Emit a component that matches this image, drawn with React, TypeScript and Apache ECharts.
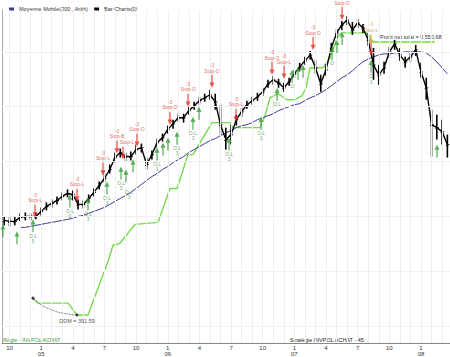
import React, { useEffect, useRef } from "react";
import * as echarts from "echarts";

// Month index: 0 = October 2004 (x axis), one bar every half month
const FIRST_BAR_MONTH = -0.5;

const closes = [
  4090, 4080, 4080, 4120, 4130, 4130, 4130, 4180, 4230, 4260, 4290, 4330, 4360, 4350, 4250, 4250, 4310, 4370, 4440, 4510,
  4600, 4720, 4770, 4730, 4730, 4800, 4820, 4650, 4750, 4870, 4920, 5000, 5060, 5120, 5120, 5190, 5240, 5290, 5320, 5350,
  5280, 5050, 4900, 4950, 5100, 5180, 5250, 5290, 5330, 5380, 5460, 5500, 5470, 5420, 5480, 5560, 5630, 5690, 5750, 5620,
  5460, 5600, 5820, 5970, 6050, 6100, 6000, 6070, 6020, 5900, 5650, 5550, 5620, 5780, 5860, 5750, 5680, 5730, 5800, 5580,
  5420, 5050, 5020, 4980, 4850,
];
const highs = [
  4130, 4120, 4130, 4160, 4170, 4160, 4170, 4220, 4270, 4300, 4330, 4370, 4400, 4390, 4300, 4290, 4350, 4410, 4480, 4560,
  4650, 4770, 4810, 4770, 4780, 4850, 4860, 4720, 4790, 4910, 4960, 5040, 5100, 5160, 5160, 5230, 5280, 5330, 5360, 5400,
  5360, 5250, 5020, 5050, 5150, 5220, 5290, 5330, 5370, 5420, 5500, 5540, 5510, 5470, 5520, 5600, 5670, 5730, 5790, 5700,
  5550, 5660, 5870, 6010, 6090, 6140, 6080, 6110, 6060, 5970, 5820, 5650, 5680, 5830, 5900, 5820, 5730, 5780, 5850, 5670,
  5520, 5200, 5150, 5100, 4950,
];
const lows = [
  4040, 4030, 4040, 4080, 4090, 4090, 4100, 4140, 4190, 4220, 4250, 4290, 4320, 4290, 4200, 4210, 4270, 4330, 4400, 4470,
  4560, 4670, 4720, 4680, 4690, 4750, 4770, 4600, 4700, 4820, 4880, 4960, 5010, 5080, 5070, 5150, 5200, 5250, 5280, 5300,
  5200, 4950, 4800, 4850, 5040, 5130, 5210, 5250, 5290, 5340, 5420, 5450, 5420, 5380, 5440, 5520, 5590, 5650, 5700, 5560,
  5380, 5540, 5770, 5920, 6000, 6050, 5950, 6020, 5970, 5840, 5500, 5450, 5560, 5720, 5800, 5690, 5620, 5680, 5740, 5520,
  5300, 4730, 4900, 4850, 4720,
];
const movingAverage200 = [
  null, null, null,
  4020, 4020, 4030, 4040, 4050, 4060, 4070, 4080, 4090, 4100, 4110, 4130, 4140, 4160, 4180, 4200, 4220, 4250, 4280, 4310,
  4340, 4370, 4410, 4450, 4490, 4530, 4560, 4600, 4630, 4670, 4700, 4730, 4770, 4800, 4830, 4860, 4890, 4910, 4940, 4970,
  4990, 5020, 5040, 5050, 5070, 5100, 5120, 5140, 5160, 5190, 5210, 5230, 5250, 5260, 5290, 5320, 5340, 5370, 5400, 5440,
  5480, 5520, 5550, 5590, 5640, 5680, 5710, 5730, 5750, 5760, 5760, 5770, 5770, 5780, 5780, 5780, 5780, 5770, 5730, 5680,
  5620, 5560,
];
// Equity curve of the strategy: [month, profit €]
const equityCurve: [number, number][] = [
  [2.23, 0], [2.7, -108], [5.55, -108], [6.4, -367], [7.44, -367], [9.34, 799], [9.81, 1145], [10.47, 1188],
  [11.9, 1598], [14.08, 1642], [15.21, 2376], [15.88, 2376], [16.92, 3110], [17.39, 3110], [19.19, 3802],
  [20.9, 3802], [21.18, 3694], [23.74, 3694], [24.22, 3953], [24.69, 4342], [25.45, 4428], [26.3, 4298],
  [27.06, 4298], [27.73, 4385], [28.1, 4558], [28.48, 4990], [29.72, 4990], [30.38, 5206], [31.14, 5681],
  [31.52, 5746], [33.89, 5746], [34.46, 5550.68], [40.33, 5550.68],
];
// Maximum drawdown curve (dotted)
const drawdownCurve: [number, number][] = [[2.23, 0], [2.89, -130], [3.84, -238], [4.79, -313], [6.4, -367]];
const drawdownEnds: [number, number][] = [[2.23, 0], [6.4, -367]];
const drawdownLabel = "DDM = 391,59";
const profitLabel = "Profit net total = 5 550,68";

// Sell signals: [month, price, label]
const sellSignals: [number, number, string][] = [
  [2.42, 4120, "-3\nStop-L"], [6.4, 4280, "-3\nStop-L"], [8.86, 4540, "-3\nStop-L"], [10.19, 4760, "-3\nStop-B"],
  [10.76, 4700, "Stop-L"], [12.09, 4830, "-3\nStop-O"], [15.21, 5050, "-3\nStop-O"], [16.92, 5230, "-3\nStop-O"],
  [19.19, 5420, "-3\nStop-O"], [21.47, 5080, "-3\nStop-L"], [24.88, 5550, "-3\nStop-O"], [26.02, 5510, "-3\nStop-L"],
  [28.77, 5800, "-3\nStop-O"], [31.52, 6100, "Stop-O"], [34.27, 5740, ""],
];
const stopSignals: [number, number, string][] = [[34.27, 5850, "-3\nStop-L"]];
// Buy signals: [month, price, label]
const buySignals: [number, number, string][] = [
  [-0.62, 4050, ""], [0.71, 3980, ""], [2.23, 4100, "O.L\n5"], [5.73, 4350, "O.L\n3"], [7.44, 4320, "O.L\n3"],
  [9.24, 4480, "O.L\n3"], [10.57, 4630, "O.L\n3"], [11.04, 4600, "O.L\n3"], [11.71, 4700, ""], [13.98, 4820, "O.L\n1"],
  [14.55, 4870, ""], [15.02, 4920, ""], [15.88, 4980, "O.L\n3"], [17.39, 5130, "O.L\n3"], [17.96, 5230, ""],
  [20.81, 4920, "O.L\n3"], [23.84, 5130, "O.L\n1"], [25.36, 5420, "O.L"], [26.78, 5600, "O"], [27.35, 5630, ""],
  [27.82, 5650, ""], [30.57, 5830, "O"], [31.04, 5900, ""], [31.52, 5980, ""], [34.27, 5700, "O\n3"], [40.52, 4850, ""],
];

const tickMonths = [0, 3, 6, 9, 12, 15, 18, 21, 24, 27, 30, 33, 36, 39];
const tickLabels = ["10", "1\n05", "4", "7", "10", "1\n06", "4", "7", "10", "1\n07", "4", "7", "10", "1\n08"];
const gridMonths = [0, 1, 2, 3, 4, 5, 6, 7, 8, 9, 10, 11, 12, 13, 14, 15, 16, 17, 18, 19, 20, 21, 22, 23, 24, 25, 26, 27, 28, 29, 30, 31, 32, 33, 34, 35, 36, 37, 38, 39, 40, 41];
const gridPrices = [3030, 3580, 4130, 4680, 5230, 5780];

const FONT = "Liberation Sans, Arial, sans-serif";
const DOWN_ARROW = "path://M3,0L5,0L5,9L8,9L4,15L0,9L3,9Z";
const UP_ARROW = "path://M4,0L8,6L5,6L5,15L3,15L3,6L0,6Z";

export default function App() {
  const ref = useRef<HTMLDivElement>(null);
  useEffect(() => {
    if (!ref.current) return;
    const chart = echarts.init(ref.current, undefined, { renderer: "svg" });
    const barData = closes.map((c, i) => [FIRST_BAR_MONTH + i * 0.5, highs[i], lows[i], c]);
    const closeLine = closes.map((c, i) => [FIRST_BAR_MONTH + i * 0.5, c]);
    const maLine = movingAverage200.map((v, i) => [FIRST_BAR_MONTH + i * 0.5, v]);

    const option: any = {
      animation: false,
      backgroundColor: "#ffffff",
      textStyle: { fontFamily: FONT },
      legend: {
        left: 4,
        top: 1,
        itemWidth: 5,
        itemHeight: 3,
        itemGap: 6,
        textStyle: { fontSize: 5.5, color: "#333", fontFamily: FONT },
        data: [
          { name: "Moyenne Mobile(200 , Arith)", icon: "rect" },
          { name: "Bar-Charts(0)", icon: "rect" },
        ],
      },
      grid: { left: 2, right: 0, top: 10, bottom: 13 },
      xAxis: {
        type: "value",
        min: -0.71,
        max: 41.75,
        splitLine: { show: false },
        axisLine: { show: true, onZero: false, lineStyle: { color: "#888", width: 1 } },
        axisTick: { show: false },
        axisLabel: {
          customValues: tickMonths,
          formatter: (v: number) => tickLabels[tickMonths.indexOf(Math.round(v))] ?? "",
          fontSize: 6,
          lineHeight: 6,
          color: "#333",
          margin: 2,
          fontFamily: FONT,
        },
      },
      yAxis: [
        {
          type: "value",
          min: 2860,
          max: 6200,
          axisLine: { show: true, onZero: false, lineStyle: { color: "#aaa" } },
          axisTick: { show: false },
          axisLabel: { show: false },
          splitLine: { show: false },
        },
        { type: "value", min: -972, max: 6242.4, show: false, splitLine: { show: false } },
      ],
      series: [
        {
          type: "line",
          data: [],
          z: 1,
          silent: true,
          markLine: {
            silent: true,
            symbol: "none",
            label: { show: false },
            lineStyle: { color: "#efefef", width: 1, type: "solid" },
            data: [
              ...gridMonths.map((m) => ({ xAxis: m })),
              ...gridPrices.map((p) => ({ yAxis: p })),
            ],
          },
        },
        {
          name: "Moyenne Mobile(200 , Arith)",
          type: "line",
          data: maLine,
          showSymbol: false,
          symbol: "none",
          color: "#3c3c96",
          lineStyle: { color: "#3c3c96", width: 1 },
          z: 3,
        },
        {
          type: "line",
          data: closeLine,
          symbol: "none",
          lineStyle: { color: "#000", width: 1.4 },
          z: 4,
        },
        {
          name: "Bar-Charts(0)",
          type: "custom",
          data: barData,
          color: "#000",
          itemStyle: { color: "#000" },
          encode: { x: 0, y: [1, 2, 3] },
          z: 4,
          renderItem: (params: any, api: any) => {
            const m = api.value(0);
            const hi = api.coord([m, api.value(1)]);
            const lo = api.coord([m, api.value(2)]);
            const cl = api.coord([m, api.value(3)]);
            return {
              type: "group",
              children: [
                { type: "line", shape: { x1: hi[0], y1: hi[1], x2: lo[0], y2: lo[1] }, style: { stroke: "#000", lineWidth: 1.6 } },
                { type: "line", shape: { x1: cl[0] - 1.5, y1: cl[1] + 1, x2: cl[0] + 2, y2: cl[1] }, style: { stroke: "#000", lineWidth: 1 } },
              ],
            };
          },
        },
        {
          type: "line",
          yAxisIndex: 1,
          data: equityCurve,
          symbol: "none",
          lineStyle: { color: "#72dc4a", width: 1.4 },
          z: 2,
        },
        {
          type: "line",
          yAxisIndex: 1,
          data: drawdownCurve,
          symbol: "none",
          smooth: true,
          lineStyle: { color: "#333", width: 0.8, type: "dotted" },
          z: 5,
        },
        {
          type: "scatter",
          yAxisIndex: 1,
          data: drawdownEnds.map((d, i) => ({
            value: d,
            label: i === 1 ? { show: true, formatter: drawdownLabel, position: "bottom", distance: 1 } : { show: false },
          })),
          symbol: "circle",
          symbolSize: 3,
          itemStyle: { color: "#111" },
          label: { fontSize: 5.5, color: "#222", fontFamily: FONT },
          z: 6,
        },
        {
          type: "scatter",
          data: sellSignals.map(([m, p, t], i) => ({
            value: [m, p],
            label: t
              ? { show: true, formatter: t, offset: i === 4 ? [4, 0] : [0, 0] }
              : { show: false },
          })),
          symbol: DOWN_ARROW,
          symbolSize: [5, 13],
          symbolOffset: [0, "-50%"],
          itemStyle: { color: "#e42a22" },
          label: { position: "top", distance: 1, fontSize: 4.8, lineHeight: 5.5, color: "#d83a30", fontFamily: FONT },
          z: 7,
        },
        {
          type: "scatter",
          data: stopSignals.map(([m, p, t]) => ({ value: [m, p], label: { show: true, formatter: t } })),
          symbol: DOWN_ARROW,
          symbolSize: [5, 11],
          symbolOffset: [0, "-50%"],
          itemStyle: { color: "#e8a23a" },
          label: { position: "top", distance: 1, fontSize: 4.8, lineHeight: 5.5, color: "#d08a2a", fontFamily: FONT },
          z: 7,
        },
        {
          type: "scatter",
          data: buySignals.map(([m, p, t], i) => ({
            value: [m, p],
            label: t ? { show: true, formatter: t, offset: i === 7 ? [3, 6] : [0, 0] } : { show: false },
          })),
          symbol: UP_ARROW,
          symbolSize: [5, 13],
          symbolOffset: [0, "50%"],
          itemStyle: { color: "#339a33" },
          label: { position: "bottom", distance: 1, fontSize: 4.8, lineHeight: 5.5, color: "#3a8a3a", fontFamily: FONT },
          z: 7,
        },
      ],
      graphic: [
        { type: "text", left: 3, top: 337, style: { text: "Règle : INVPOLACHAT", fill: "#3a9a3a", fontSize: 5.5, fontFamily: FONT } },
        { type: "text", left: 290, top: 337, style: { text: "Stratégie INVPOL ACHAT - 45", fill: "#222", fontSize: 5.5, fontFamily: FONT } },
        { type: "text", left: 380, top: 34, style: { text: profitLabel, fill: "#333", fontSize: 5.5, fontFamily: FONT } },
      ],
    };
    chart.setOption(option);
    return () => chart.dispose();
  }, []);
  return <div ref={ref} style={{ position: "absolute", left: 0, top: 0, width: 450, height: 357 }} />;
}
